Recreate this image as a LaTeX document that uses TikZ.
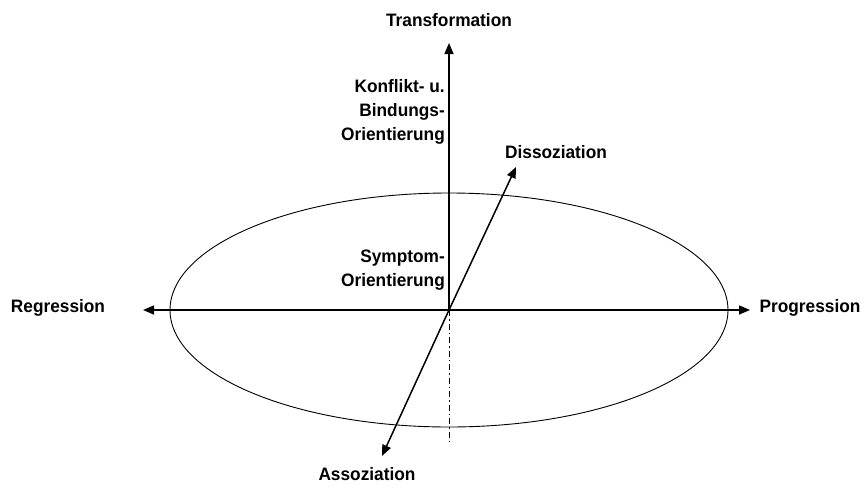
\documentclass[tikz,border=0pt]{standalone}
\usepackage{fontspec}
\setmainfont[FakeStretch=0.96]{Liberation Sans}
\usetikzlibrary{arrows.meta}
\begin{document}
\begin{tikzpicture}[x=1pt,y=-1pt,
  lbl/.style={font=\bfseries\fontsize{18}{24}\selectfont, inner sep=0pt},
  axis/.style={line width=1.5pt, -{Triangle[length=11pt,width=9pt]}},
  oval/.style={line width=0.9pt}]
\useasboundingbox (0,0) rectangle (865,490);
\coordinate (O) at (449,310);
\coordinate (T) at (449,43);
\coordinate (L) at (143,310);
\coordinate (R) at (750,310);
\coordinate (D) at (516,167);
\coordinate (A) at (382,456);
\coordinate (B) at (449,445);
\draw[oval] (O) ellipse [x radius=279, y radius=117];
\draw[axis] (O) -- (T);
\draw[axis] (O) -- (L);
\draw[axis] (O) -- (R);
\draw[axis] (O) -- (D);
\draw[axis] (O) -- (A);
\draw[line width=0.8pt, dash pattern=on 6pt off 3pt on 1.5pt off 3pt] (O) -- (B);
\node[lbl] (tr) at (449,20) {Transformation};
\node[lbl] (rg) at (58,308) {Regression};
\node[lbl] (pg) at (810,308) {Progression};
\node[lbl] (ds) at (556,152) {Dissoziation};
\node[lbl] (as) at (367,474) {Assoziation};
\node[lbl, anchor=east, align=right] (kb) at (445,112) {Konflikt- u.\\Bindungs-\\Orientierung};
\node[lbl, anchor=east, align=right] (so) at (445,270) {Symptom-\\Orientierung};
\end{tikzpicture}
\end{document}
